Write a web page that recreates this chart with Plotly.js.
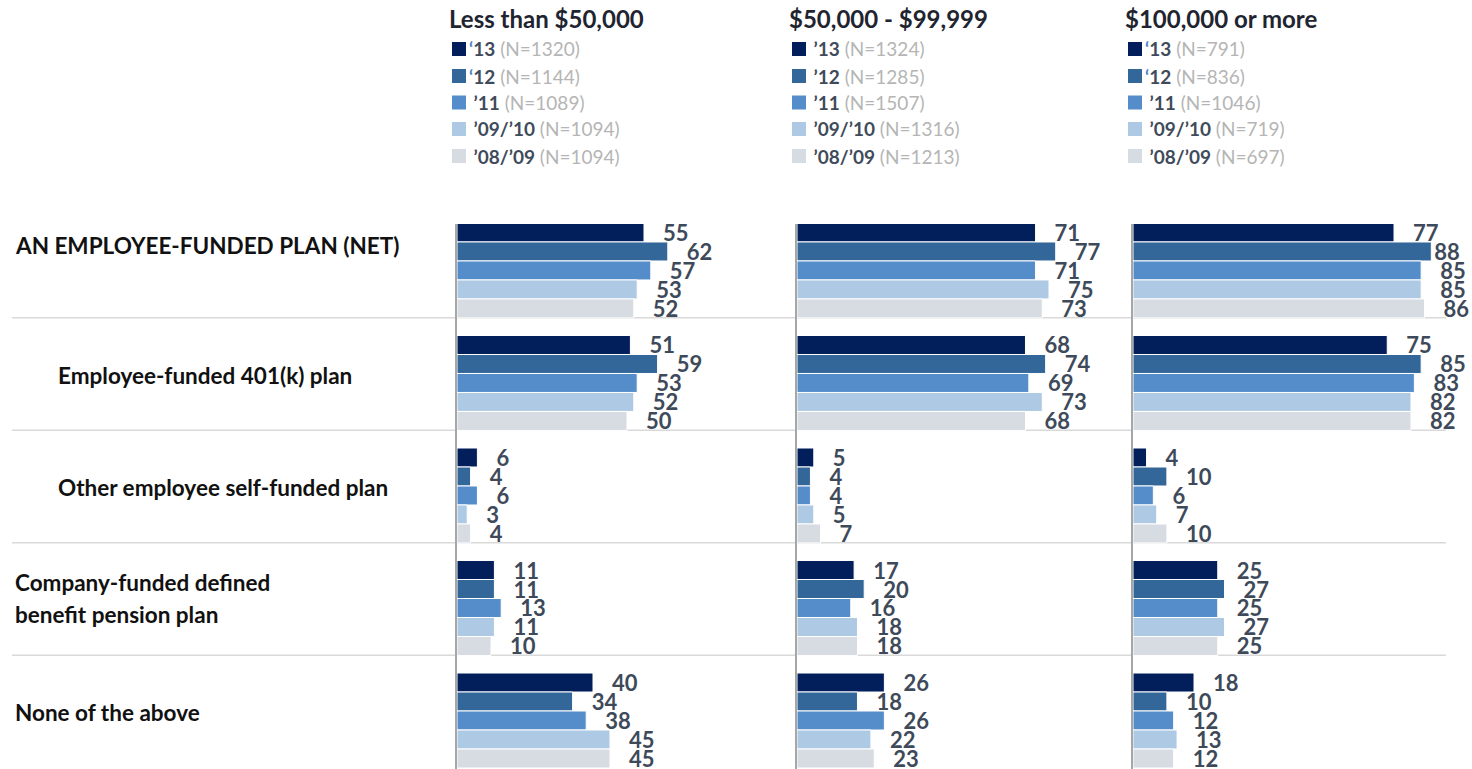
<!DOCTYPE html>
<html>
<head>
<meta charset="utf-8">
<script src="https://cdn.plot.ly/plotly-3.0.1.min.js"></script>
<style>
  html, body { margin: 0; padding: 0; background: #ffffff; }
  #chart { width: 1472px; height: 769px; }
</style>
</head>
<body>
<div id="chart"></div>
<script>
// ---------------- DATA ----------------
const categories = [
  "AN EMPLOYEE-FUNDED PLAN (NET)",
  "Employee-funded 401(k) plan",
  "Other employee self-funded plan",
  "Company-funded defined<br>benefit pension plan",
  "None of the above"
];
const panelTitles = ["Less than $50,000", "$50,000 - $99,999", "$100,000 or more"];
const seriesNames = ["’13", "’12", "’11", "’09/’10", "’08/’09"];

// Less than $50,000
const low13 = [55, 51, 6, 11, 40];
const low12 = [62, 59, 4, 11, 34];
const low11 = [57, 53, 6, 13, 38];
const low0910 = [53, 52, 3, 11, 45];
const low0809 = [52, 50, 4, 10, 45];
const lowN = [1320, 1144, 1089, 1094, 1094];

// $50,000 - $99,999
const mid13 = [71, 68, 5, 17, 26];
const mid12 = [77, 74, 4, 20, 18];
const mid11 = [71, 69, 4, 16, 26];
const mid0910 = [75, 73, 5, 18, 22];
const mid0809 = [73, 68, 7, 18, 23];
const midN = [1324, 1285, 1507, 1316, 1213];

// $100,000 or more
const high13 = [77, 75, 4, 25, 18];
const high12 = [88, 85, 10, 27, 10];
const high11 = [85, 83, 6, 25, 12];
const high0910 = [85, 82, 7, 27, 13];
const high0809 = [86, 82, 10, 25, 12];
const highN = [791, 836, 1046, 719, 697];

// ---------------- STYLE ----------------
const colors = ["#021e5b", "#336699", "#548dca", "#adc9e4", "#d7dce2"];
const FONT = "Lato, 'Open Sans', sans-serif";
const valueColor = "#3e4a5a";

const panels = [
  { series: [low13, low12, low11, low0910, low0809], n: lowN },
  { series: [mid13, mid12, mid11, mid0910, mid0809], n: midN },
  { series: [high13, high12, high11, high0910, high0809], n: highN }
];

// pixel helpers (plot area: left 457, width 1015, top 224, height 545)
const L = 457, W = 1015, T = 224, H = 545;
const PX = v => (v - L) / W;
const PY = v => (T + H - v) / H;
const panelLeft = [457, 797, 1133];
const domains = [[0, 340 / W], [340 / W, 676 / W], [676 / W, 1]];

const NB = "\u00a0\u00a0\u00a0";

const traces = [];
panels.forEach((p, pi) => {
  const ax = pi === 0 ? "" : String(pi + 1);
  p.series.forEach((vals, si) => {
    traces.push({
      type: "bar",
      orientation: "h",
      name: seriesNames[si],
      x: vals,
      y: categories,
      xaxis: "x" + ax,
      yaxis: "y" + ax,
      marker: { color: colors[si], line: { color: "#ffffff", width: 1 } },
      // labels near the right edge are pulled in so they stay on the page
      text: vals.map(v => (pi === 2 && v >= 87 ? "" : NB) + v),
      textposition: "outside",
      textfont: { family: FONT, size: 22, color: valueColor, weight: 700 },
      constraintext: "none",
      cliponaxis: false,
      showlegend: false,
      hoverinfo: "x+name"
    });
  });
});

const layout = {
  width: 1472,
  height: 769,
  margin: { l: L, r: 0, t: T, b: 0 },
  paper_bgcolor: "#ffffff",
  plot_bgcolor: "#ffffff",
  barmode: "group",
  bargap: 0.156,
  bargroupgap: 0,
  showlegend: false,
  font: { family: FONT },
  annotations: [],
  shapes: []
};

const yRange = [4.431, -0.413];
for (let i = 0; i < 3; i++) {
  const ax = i === 0 ? "" : String(i + 1);
  layout["xaxis" + ax] = {
    domain: domains[i], range: [0, 100], anchor: "y" + ax,
    showgrid: false, zeroline: false, showticklabels: false, showline: false, ticks: "", fixedrange: true
  };
  layout["yaxis" + ax] = {
    type: "category", categoryorder: "array", categoryarray: categories,
    range: yRange, anchor: "x" + ax,
    showgrid: false, zeroline: false, showticklabels: false, ticks: "",
    showline: true, linecolor: "#a6a6a6", linewidth: 2, fixedrange: true
  };
}

// separator lines between groups
for (let i = 0; i < categories.length - 1; i++) {
  layout.shapes.push({
    type: "line", xref: "paper", yref: "y",
    x0: PX(12), x1: PX(1446), y0: i + 0.42, y1: i + 0.42,
    line: { color: "#d9d9d9", width: 1.5 }, layer: "below"
  });
}

// category labels
const indented = [1, 2];
const labelShift = [25, 7, 8, 10, 8];
categories.forEach((c, i) => {
  const lines = c.split("<br>");
  const lh = 32;
  lines.forEach((ln, k) => {
    const off = (k - (lines.length - 1) / 2) * lh;
    layout.annotations.push({
      xref: "paper", yref: "y", x: PX(indented.includes(i) ? 56 : 13), y: c,
      xanchor: "left", yanchor: "middle", showarrow: false,
      yshift: labelShift[i] - off,
      text: ln, align: "left",
      font: { family: FONT, size: 22.5, color: "#111111", weight: 700 }
    });
  });
});

// panel legends
const rowY = [49, 76, 102.5, 129, 156];
panels.forEach((p, pi) => {
  const x0 = panelLeft[pi];
  layout.annotations.push({
    xref: "paper", yref: "paper", x: PX(x0 - 10), y: PY(18),
    xanchor: "left", yanchor: "middle", showarrow: false,
    text: panelTitles[pi],
    font: { family: FONT, size: 24, color: "#1f2530", weight: 700 }
  });
  seriesNames.forEach((s, si) => {
    const sq = x0 - 5;
    layout.shapes.push({
      type: "rect", xref: "paper", yref: "paper",
      x0: PX(sq), x1: PX(sq + 14), y0: PY(rowY[si] + 7), y1: PY(rowY[si] - 7),
      fillcolor: colors[si], line: { width: 0 }
    });
    let lbl;
    if (si < 2 && pi !== 1) {
      lbl = "<span style='color:#4a86c8'>‘</span>" + s.slice(1);
    } else {
      lbl = "\u00a0" + s;
    }
    layout.annotations.push({
      xref: "paper", yref: "paper", x: PX(sq + 15), y: PY(rowY[si]),
      xanchor: "left", yanchor: "middle", showarrow: false,
      text: "<b>" + lbl + "</b> <span style='color:#b5b5b5;font-weight:400'>(N=" + p.n[si] + ")</span>",
      font: { family: FONT, size: 19, color: "#3f4b5b" }
    });
  });
});

Plotly.newPlot("chart", traces, layout, { displayModeBar: false, staticPlot: true });
</script>
</body>
</html>
